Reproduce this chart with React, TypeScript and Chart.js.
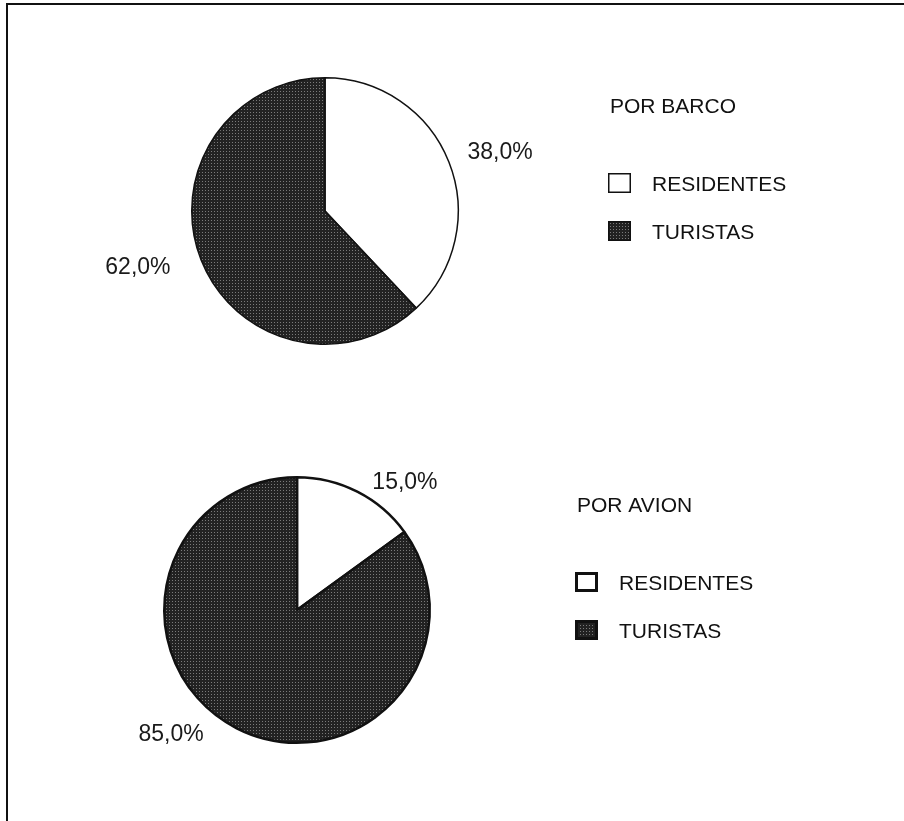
import React, { useEffect, useRef } from "react";
import { Chart, registerables } from "chart.js";

Chart.register(...registerables);

const categories = ["RESIDENTES", "TURISTAS"];
const barcoValues = [38.0, 62.0];
const avionValues = [15.0, 85.0];
const chartTitles = ["POR BARCO", "POR AVION"];

const FONT = "'Liberation Sans', Arial, sans-serif";

function makePattern(): CanvasPattern | string {
  const c = document.createElement("canvas");
  c.width = 3;
  c.height = 3;
  const g = c.getContext("2d");
  if (!g) return "#2c2c2c";
  g.fillStyle = "#222222";
  g.fillRect(0, 0, 3, 3);
  g.fillStyle = "#7a7a7a";
  g.fillRect(1, 1, 1, 1);
  const p = g.createPattern(c, "repeat");
  return p || "#2c2c2c";
}

const fmt = (v: number) => v.toFixed(1).replace(".", ",") + "%";

const pieExtras = {
  id: "pieExtras",
  afterDatasetsDraw(chart: any, _args: any, opts: any) {
    const ctx = chart.ctx;
    const meta = chart.getDatasetMeta(0);
    const data = chart.data.datasets[0].data as number[];
    const bg = chart.data.datasets[0].backgroundColor as any[];
    if (!meta.data.length) return;
    const first = meta.data[0].getProps(["x", "y", "outerRadius"], true);
    const cx = first.x;
    const cy = first.y;
    ctx.save();
    // percentage labels
    ctx.font = `23px ${FONT}`;
    ctx.fillStyle = "#1a1a1a";
    ctx.textBaseline = "middle";
    meta.data.forEach((arc: any, i: number) => {
      const p = arc.getProps(["x", "y", "startAngle", "endAngle", "outerRadius"], true);
      const mid = (p.startAngle + p.endAngle) / 2;
      const cos = Math.cos(mid);
      const sin = Math.sin(mid);
      const rr = p.outerRadius + 20;
      const nudge = (opts.nudge && opts.nudge[i]) || [0, 0];
      const x = p.x + rr * cos + nudge[0];
      const y = p.y + rr * sin + nudge[1];
      ctx.textAlign = cos >= 0 ? "left" : "right";
      ctx.fillText(fmt(data[i]), x, y);
    });
    // legend
    const lx = cx + opts.offsetX;
    const ty = cy - 104;
    ctx.font = `21px ${FONT}`;
    ctx.textAlign = "left";
    ctx.fillStyle = "#111";
    ctx.fillText(opts.title, lx + 2, ty);
    const labels = chart.data.labels as string[];
    labels.forEach((lab: string, i: number) => {
      const by = ty + 66 + i * 48;
      ctx.fillStyle = bg[i];
      ctx.fillRect(lx, by, 23, 20);
      ctx.lineWidth = opts.boxBorder;
      ctx.strokeStyle = "#111";
      ctx.strokeRect(lx + opts.boxBorder / 2, by + opts.boxBorder / 2, 23 - opts.boxBorder, 20 - opts.boxBorder);
      ctx.fillStyle = "#111";
      ctx.fillText(lab, lx + 44, by + 12);
    });
    ctx.restore();
  },
};

function PieCanvas(props: {
  values: number[];
  title: string;
  padding: { left: number; right: number; top: number; bottom: number };
  borderWidth: number;
  offsetX: number;
  boxBorder: number;
  nudge: number[][];
}) {
  const ref = useRef<HTMLCanvasElement | null>(null);
  useEffect(() => {
    if (!ref.current) return;
    const pat = makePattern();
    const chart = new Chart(ref.current, {
      type: "pie",
      data: {
        labels: categories,
        datasets: [
          {
            data: props.values,
            backgroundColor: ["#ffffff", pat as any],
            borderColor: "#111111",
            borderWidth: props.borderWidth,
          },
        ],
      },
      options: {
        animation: false,
        responsive: false,
        events: [],
        layout: { padding: props.padding },
        plugins: {
          legend: { display: false },
          tooltip: { enabled: false },
          title: { display: false },
          pieExtras: {
            title: props.title,
            offsetX: props.offsetX,
            boxBorder: props.boxBorder,
            nudge: props.nudge,
          },
        } as any,
      },
      plugins: [pieExtras],
    });
    return () => chart.destroy();
  }, []);
  return (
    <canvas
      ref={ref}
      width={904}
      height={821}
      style={{ position: "absolute", left: 0, top: 0, width: 904, height: 821 }}
    />
  );
}

export default function App() {
  return (
    <div
      style={{
        position: "fixed",
        left: 0,
        top: 0,
        width: 904,
        height: 821,
        background: "#ffffff",
        overflow: "hidden",
      }}
    >
      <div
        style={{
          position: "absolute",
          left: 6,
          top: 3,
          width: 1000,
          height: 1000,
          borderLeft: "2px solid #111",
          borderTop: "2px solid #111",
        }}
      />
      <PieCanvas
        values={barcoValues}
        title={chartTitles[0]}
        padding={{ left: 191, right: 445, top: 77, bottom: 476 }}
        borderWidth={1.5}
        offsetX={283}
        boxBorder={1.5}
        nudge={[[0, -2], [-12, 0]]}
      />
      <PieCanvas
        values={avionValues}
        title={chartTitles[1]}
        padding={{ left: 163, right: 473, top: 476, bottom: 77 }}
        borderWidth={2.5}
        offsetX={278}
        boxBorder={3}
        nudge={[[6, 9], [-24, -11]]}
      />
    </div>
  );
}
